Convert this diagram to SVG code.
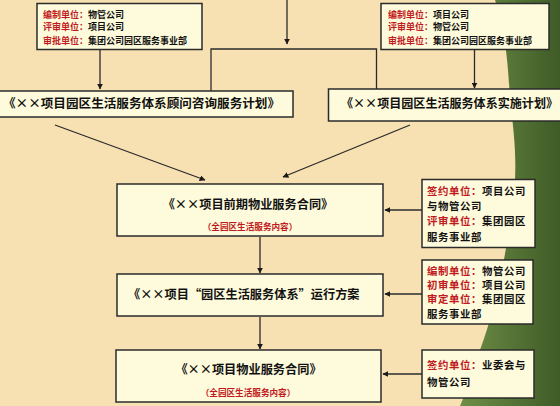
<svg xmlns="http://www.w3.org/2000/svg" width="560" height="406" viewBox="0 0 560 406">
<style>
.box{fill:#fefbdc;stroke:#2b2b2b;stroke-width:1.5}
.t{font-family:"Noto Sans CJK SC","Noto Sans CJK JP",sans-serif;font-weight:700;fill:#111}
.r{fill:#c01a1f}
.small{font-size:9px}
.mid{font-size:10.4px;letter-spacing:0.6px}
.big{font-size:12.2px}
.sub{font-size:8.6px;fill:#c01a1f;font-weight:700}
.ln{stroke:#2b2b2b;stroke-width:1.3;fill:none}
</style>
<defs>
<marker id="ah" viewBox="0 0 10 10" refX="9" refY="5" markerWidth="6" markerHeight="6" markerUnits="userSpaceOnUse" orient="auto">
<path d="M0,0 L10,5 L0,10 z" fill="#1a1a1a"/>
</marker>
<linearGradient id="g" x1="0" y1="0" x2="1" y2="0">
<stop offset="0" stop-color="#6f8f47"/>
<stop offset="1" stop-color="#3f5b27"/>
</linearGradient>
</defs>
<rect width="560" height="406" fill="#f7e1b3"/>
<path d="M495,0 C505,30 508,60 510,100 C515,140 518,170 512,210 C505,260 495,310 480,350 C470,380 465,395 460,406 L560,406 L560,0 Z" fill="url(#g)"/>

<g id="connectors">
<line class="ln" x1="100" y1="49" x2="100" y2="89" marker-end="url(#ah)"/>
<line class="ln" x1="287" y1="0" x2="287" y2="44" marker-end="url(#ah)"/>
<polyline class="ln" points="211,91 211,49 376.5,49 376.5,89"/>
<line class="ln" x1="474.5" y1="49" x2="474.5" y2="88" marker-end="url(#ah)"/>
<line class="ln" x1="55" y1="125" x2="205" y2="180" marker-end="url(#ah)"/>
<line class="ln" x1="410" y1="125" x2="283" y2="177" marker-end="url(#ah)"/>
<line class="ln" x1="260" y1="237" x2="260" y2="273" marker-end="url(#ah)"/>
<line class="ln" x1="260" y1="317" x2="260" y2="349" marker-end="url(#ah)"/>
<line class="ln" x1="422" y1="210" x2="385" y2="210" marker-end="url(#ah)"/>
<line class="ln" x1="422" y1="294" x2="385" y2="294" marker-end="url(#ah)"/>
<line class="ln" x1="422" y1="374" x2="383" y2="374" marker-end="url(#ah)"/>
</g>

<g id="top-left">
<rect class="box" x="37" y="3.5" width="165" height="46"/>
<text class="t small" x="43" y="17.5"><tspan class="r">编制单位：</tspan>物管公司</text>
<text class="t small" x="43" y="29.5"><tspan class="r">评审单位：</tspan>项目公司</text>
<text class="t small" x="43" y="43.5"><tspan class="r">审批单位：</tspan>集团公司园区服务事业部</text>
</g>

<g id="top-right">
<rect class="box" x="381" y="3.5" width="168" height="46"/>
<text class="t small" x="388" y="17.5"><tspan class="r">编制单位：</tspan>项目公司</text>
<text class="t small" x="388" y="29.5"><tspan class="r">评审单位：</tspan>物管公司</text>
<text class="t small" x="388" y="43.5"><tspan class="r">审批单位：</tspan>集团公司园区服务事业部</text>
</g>

<g id="plan-consult">
<rect class="box" x="-5" y="91" width="298" height="26"/>
<text class="t big" x="3" y="108" textLength="277" lengthAdjust="spacingAndGlyphs">《××项目园区生活服务体系顾问咨询服务计划》</text>
</g>

<g id="plan-implement">
<rect class="box" x="328.5" y="89" width="240" height="32"/>
<text class="t big" x="341" y="108" textLength="217" lengthAdjust="spacingAndGlyphs">《××项目园区生活服务体系实施计划》</text>
</g>

<g id="contract-early">
<rect class="box" x="117" y="184" width="266" height="52"/>
<text class="t big" x="248" y="208.5" text-anchor="middle">《××项目前期物业服务合同》</text>
<text class="t sub" x="250" y="230" text-anchor="middle">（全园区生活服务内容）</text>
</g>

<g id="operation-plan">
<rect class="box" x="117" y="274" width="266" height="42"/>
<text class="t big" x="128" y="298.5">《××项目“园区生活服务体系”运行方案</text>
</g>

<g id="contract">
<rect class="box" x="116" y="350" width="265" height="52"/>
<text class="t big" x="248.5" y="373.5" text-anchor="middle">《××项目物业服务合同》</text>
<text class="t sub" x="248" y="396" text-anchor="middle">（全园区生活服务内容）</text>
</g>

<g id="side-1">
<rect class="box" x="422" y="179.5" width="113" height="68"/>
<text class="t mid" x="427" y="195"><tspan class="r">签约单位：</tspan>项目公司</text>
<text class="t mid" x="427" y="209.5">与物管公司</text>
<text class="t mid" x="427" y="225"><tspan class="r">评审单位：</tspan>集团园区</text>
<text class="t mid" x="427" y="240.5">服务事业部</text>
</g>

<g id="side-2">
<rect class="box" x="422" y="260" width="111" height="64"/>
<text class="t mid" x="427" y="274.5"><tspan class="r">编制单位：</tspan>物管公司</text>
<text class="t mid" x="427" y="288.8"><tspan class="r">初审单位：</tspan>项目公司</text>
<text class="t mid" x="427" y="303.1"><tspan class="r">审定单位：</tspan>集团园区</text>
<text class="t mid" x="427" y="317.6">服务事业部</text>
</g>

<g id="side-3">
<rect class="box" x="422" y="350" width="112" height="48"/>
<text class="t mid" x="427" y="369"><tspan class="r">签约单位：</tspan>业委会与</text>
<text class="t mid" x="427" y="385.5">物管公司</text>
</g>
</svg>
